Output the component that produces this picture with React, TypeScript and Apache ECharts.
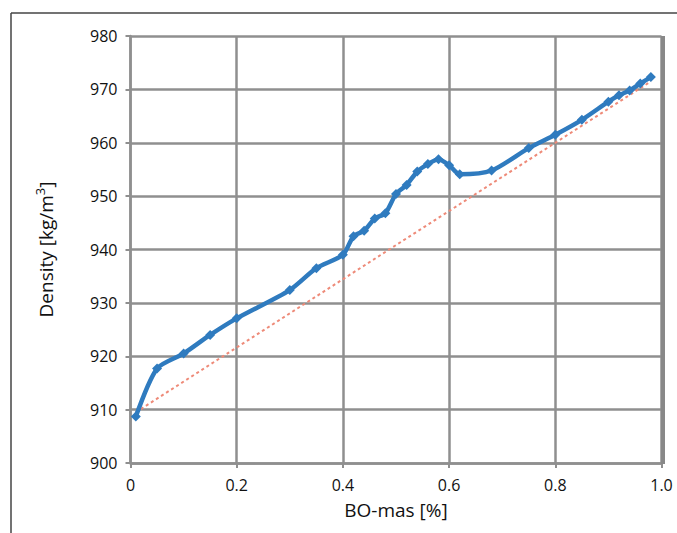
import React, { useEffect, useRef } from "react";
import * as echarts from "echarts";

const xValues = [0.01, 0.05, 0.1, 0.15, 0.2, 0.3, 0.35, 0.4, 0.42, 0.44, 0.46, 0.48, 0.5, 0.52, 0.54, 0.56, 0.58, 0.6, 0.62, 0.68, 0.75, 0.8, 0.85, 0.9, 0.92, 0.94, 0.96, 0.98];
const densityValues = [908.7, 917.7, 920.5, 924.0, 927.1, 932.4, 936.5, 939.0, 942.5, 943.5, 945.8, 946.8, 950.4, 952.1, 954.6, 956.0, 956.9, 955.8, 954.1, 954.8, 959.0, 961.5, 964.3, 967.7, 968.9, 969.8, 971.1, 972.3];
const trendX = [0.01, 0.98];
const trendY = [909.5, 971.5];
const xTickLabels = ["0", "0.2", "0.4", "0.6", "0.8", "1.0"];
const yTickLabels = ["900", "910", "920", "930", "940", "950", "960", "970", "980"];

export default function App() {
  const ref = useRef<HTMLDivElement>(null);
  useEffect(() => {
    if (!ref.current) return;
    const chart = echarts.init(ref.current, null, { renderer: "svg" });
    const gridColor = "#8f8f8f";
    const font = "'Open Sans', sans-serif";
    chart.setOption({
      animation: false,
      backgroundColor: "#ffffff",
      grid: { left: 130.5, right: 15.5, top: 36, bottom: 70, containLabel: false },
      xAxis: {
        type: "value",
        min: 0,
        max: 1,
        interval: 0.2,
        name: "BO-mas [%]",
        nameLocation: "middle",
        nameGap: 37,
        nameTextStyle: { fontFamily: font, fontSize: 19, color: "#111" },
        axisLine: { show: true, lineStyle: { color: gridColor, width: 2.5 } },
        axisTick: { show: true, length: 5, lineStyle: { color: gridColor, width: 2 } },
        splitLine: { show: true, lineStyle: { color: gridColor, width: 2.5 } },
        axisLabel: {
          fontFamily: font,
          fontSize: 16,
          color: "#111",
          margin: 14,
          formatter: (v: number) => xTickLabels[Math.round(v / 0.2)] ?? String(v),
        },
      },
      yAxis: {
        type: "value",
        min: 900,
        max: 980,
        interval: 10,
        name: "{b|Density [kg/m}{s|3}{b|]}",
        nameLocation: "middle",
        nameGap: 73,
        nameRotate: 90,
        nameTextStyle: {
          fontFamily: font,
          fontSize: 19,
          color: "#111",
          rich: {
            b: { fontFamily: font, fontSize: 19, color: "#111", lineHeight: 24 },
            s: { fontFamily: font, fontSize: 13, color: "#111", verticalAlign: "top", lineHeight: 24, padding: [0, 0, 8, 0] },
          },
        },
        axisLine: { show: true, lineStyle: { color: gridColor, width: 2.5 } },
        axisTick: { show: true, length: 5, lineStyle: { color: gridColor, width: 2 } },
        splitLine: { show: true, lineStyle: { color: gridColor, width: 2.5 } },
        axisLabel: {
          fontFamily: font,
          fontSize: 16,
          color: "#111",
          margin: 13,
          formatter: (v: number) => yTickLabels[Math.round((v - 900) / 10)] ?? String(v),
        },
      },
      graphic: [
        { type: "line", shape: { x1: 11, y1: 13, x2: 677, y2: 13 }, style: { stroke: "#444", lineWidth: 1.5 }, z: 10 },
        { type: "line", shape: { x1: 11, y1: 13, x2: 11, y2: 533 }, style: { stroke: "#444", lineWidth: 1.5 }, z: 10 },
        { type: "rect", shape: { x: 661, y: 36, width: 4, height: 428 }, style: { fill: "#888888" }, z: 10 },
      ],
      series: [
        {
          type: "line",
          data: trendX.map((x, i) => [x, trendY[i]]),
          showSymbol: false,
          symbol: "none",
          lineStyle: { color: "#ee8a78", width: 2, type: [3, 3] },
          z: 2,
        },
        {
          type: "line",
          data: xValues.map((x, i) => [x, densityValues[i]]),
          smooth: 0.25,
          symbol: "diamond",
          symbolSize: 10,
          itemStyle: { color: "#2f7bbf" },
          lineStyle: { color: "#2f7bbf", width: 4.5 },
          z: 3,
        },
      ],
    });
    return () => chart.dispose();
  }, []);
  return <div ref={ref} style={{ width: 677, height: 533, position: "absolute", left: 0, top: 0 }} />;
}
